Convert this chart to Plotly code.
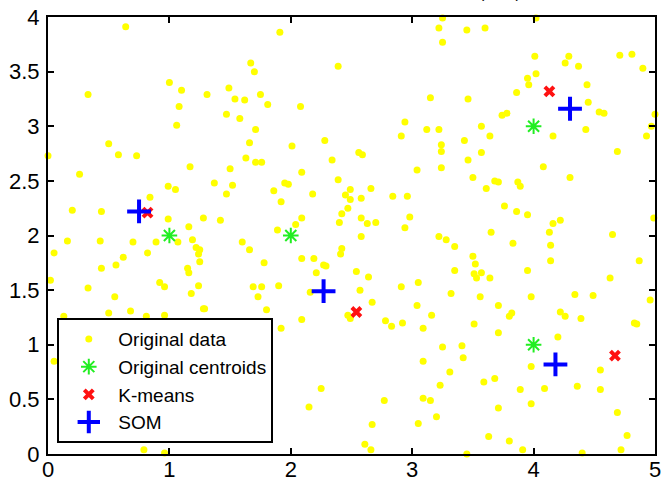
import plotly.graph_objects as go

# Original data (x, y)
data_x = [0.64, 1.91, 3.25, 4.02, 3.22, 3.45, 3.60, 3.25, 2.39, 1.67, 1.70, 4.01, 4.29, 4.26, 4.37,
          4.71, 4.81, 4.90, 4.02, 3.95, 3.96, 3.86, 4.44, 4.45, 4.54, 4.58, 5.00, 4.97, 4.93, 4.43,
          4.16, 3.78, 3.74, 3.46, 3.15, 0.33, 1.00, 1.10, 1.31, 1.49, 1.54, 1.62, 1.75, 1.81, 1.08,
          1.06, 1.47, 1.58, 1.71, 2.08, 2.94, 2.91, 3.12, 3.22, 3.57, 3.64, 3.43, 0.50, 0.58, 0.73,
          0.00, 1.66, 2.01, 2.28, 3.24, 3.24, 3.24, 2.56, 2.59, 2.34, 1.63, 1.71, 1.76, 3.46, 3.57,
          4.08, 4.69, 1.17, 0.26, 1.50, 2.09, 3.04, 3.50, 3.61, 3.68, 3.71, 3.87, 3.89, 4.30, 1.37,
          1.52, 1.47, 0.99, 1.05, 1.95, 1.98, 1.86, 1.92, 2.18, 2.39, 2.45, 2.49, 2.49, 2.58, 2.66,
          2.84, 2.96, 0.84, 0.20, 0.44, 2.47, 2.42, 2.58, 2.63, 2.70, 2.40, 2.98, 2.94, 3.76, 3.86,
          3.95, 4.16, 4.22, 4.13, 3.65, 4.99, 0.99, 1.28, 1.42, 2.09, 2.04, 1.89, 1.16, 3.22, 3.28,
          3.35, 4.65, 3.83, 4.14, 2.58, 0.16, 0.43, 0.70, 0.89, 1.07, 1.19, 1.22, 1.25, 1.24, 1.25,
          1.60, 1.66, 0.05, 0.62, 0.82, 2.42, 2.41, 2.09, 2.19, 1.78, 3.50, 3.52, 3.57, 3.51, 3.53,
          3.64, 3.35, 4.87, 4.14, 0.56, 0.44, 1.15, 1.16, 2.54, 2.64, 2.21, 2.27, 2.29, 3.95, 4.63,
          0.02, 0.92, 0.96, 1.24, 1.69, 1.76, 1.90, 0.33, 3.05, 2.91, 2.16, 2.57, 3.32, 3.56, 3.98,
          4.34, 4.49, 4.96, 0.55, 1.73, 1.18, 2.67, 3.04, 3.71, 1.80, 1.28, 0.68, 0.50, 0.96, 0.81,
          0.13, 2.47, 2.49, 3.16, 3.82, 3.80, 4.22, 4.26, 4.39, 2.09, 0.30, 1.03, 1.39, 2.78, 2.83,
          2.92, 3.51, 4.83, 4.85, 1.27, 1.36, 3.09, 3.71, 4.20, 1.74, 1.92, 3.25, 3.41, 3.42, 3.09,
          0.05, 3.98, 4.55, 3.31, 3.68, 3.59, 3.23, 4.36, 4.55, 4.09, 3.89, 2.25, 3.09, 3.15, 2.77,
          3.98, 2.15, 3.71, 4.69, 3.20, 3.05, 2.67, 4.77, 3.63, 3.80, 2.61, 2.66, 3.91, 4.72, 4.40,
          3.45, 0.79, 0.96, 1.29, 1.26]
data_y = [3.91, 3.86, 3.99, 3.99, 3.90, 3.88, 3.90, 3.77, 3.55, 3.58, 3.50, 3.64, 3.64, 3.58, 3.55,
          3.65, 3.66, 3.53, 3.48, 3.44, 3.38, 3.31, 3.38, 3.22, 3.13, 3.12, 3.11, 3.00, 2.91, 2.97,
          2.91, 3.12, 3.10, 3.25, 3.26, 3.29, 3.40, 3.33, 3.29, 3.35, 3.25, 3.24, 3.29, 3.20, 3.18,
          3.01, 3.11, 3.07, 2.97, 3.18, 3.04, 2.91, 2.97, 2.97, 3.00, 2.91, 2.87, 2.84, 2.74, 2.73,
          2.73, 2.85, 2.82, 2.87, 2.83, 2.77, 2.62, 2.76, 2.74, 2.69, 2.71, 2.67, 2.67, 2.69, 2.76,
          2.63, 2.77, 2.63, 2.56, 2.61, 2.58, 2.60, 2.53, 2.43, 2.50, 2.49, 2.49, 2.45, 2.53, 2.48,
          2.46, 2.38, 2.45, 2.42, 2.48, 2.47, 2.41, 2.31, 2.38, 2.51, 2.37, 2.42, 2.33, 2.34, 2.43,
          2.36, 2.36, 2.35, 2.23, 2.22, 2.25, 2.20, 2.16, 2.11, 2.12, 2.12, 2.17, 2.07, 2.27, 2.22,
          2.19, 2.11, 2.14, 2.03, 2.03, 2.16, 2.15, 2.16, 2.14, 2.16, 2.10, 2.05, 2.08, 1.99, 1.96,
          1.90, 2.01, 1.93, 1.91, 1.99, 1.95, 1.95, 1.94, 1.94, 1.94, 1.96, 1.89, 1.87, 1.83, 1.76,
          1.94, 1.87, 1.84, 1.80, 1.84, 1.88, 1.83, 1.79, 1.79, 1.75, 1.81, 1.74, 1.66, 1.65, 1.61,
          1.61, 1.68, 1.77, 1.77, 1.73, 1.70, 1.70, 1.66, 1.67, 1.62, 1.66, 1.73, 1.72, 1.68, 1.61,
          1.59, 1.57, 1.53, 1.54, 1.53, 1.53, 1.54, 1.52, 1.57, 1.53, 1.48, 1.50, 1.47, 1.44, 1.44,
          1.46, 1.45, 1.41, 1.44, 1.44, 1.47, 1.39, 1.36, 1.36, 1.32, 1.33, 1.31, 1.29, 1.27, 1.26,
          1.26, 1.27, 1.24, 1.27, 1.29, 1.26, 1.30, 1.26, 1.24, 1.23, 1.18, 1.19, 1.19, 1.22, 1.17,
          1.20, 1.19, 1.20, 1.19, 1.14, 1.11, 1.15, 1.11, 1.07, 1.11, 1.15, 0.98, 0.99, 0.88, 0.85,
          0.85, 0.80, 0.77, 0.75, 0.69, 0.66, 0.63, 0.62, 0.59, 0.60, 0.59, 0.60, 0.51, 0.49, 0.49,
          0.46, 0.43, 0.42, 0.38, 0.34, 0.28, 0.27, 0.17, 0.16, 0.12, 0.09, 0.04, 0.04, 0.04, 0.01,
          0.00, 0.04, 0.01, 1.33, 1.15]

# Original centroids
cent_x = [1, 2, 4, 4]
cent_y = [2, 2, 3, 1]
# K-means centroids
km_x = [0.82, 2.54, 4.13, 4.67]
km_y = [2.21, 1.30, 3.32, 0.90]
# SOM centroids
som_x = [0.75, 2.27, 4.30, 4.18]
som_y = [2.22, 1.49, 3.16, 0.82]

x_ticks = [0, 1, 2, 3, 4, 5]
x_ticktext = ["0", "1", "2", "3", "4", "5"]
y_ticks = [0, 0.5, 1, 1.5, 2, 2.5, 3, 3.5, 4]
y_ticktext = ["0", "0.5", "1", "1.5", "2", "2.5", "3", "3.5", "4"]

FONT = "Liberation Sans, Arial, Helvetica"

fig = go.Figure()
fig.add_trace(go.Scatter(
    x=data_x, y=data_y, mode="markers", name="Original data", legendgroup="a",
    marker=dict(color="#FFFF00", size=7, line=dict(width=0)), cliponaxis=False))
fig.add_trace(go.Scatter(
    x=cent_x, y=cent_y, mode="markers", name="Original centroids", legendgroup="b",
    marker=dict(symbol="asterisk-open", color="#22EE22", size=13, line=dict(color="#22EE22", width=2)),
    cliponaxis=False))
fig.add_trace(go.Scatter(
    x=km_x, y=km_y, mode="markers", name="K-means", legendgroup="c",
    marker=dict(symbol="x-thin-open", color="#FF1111", size=9, line=dict(color="#FF1111", width=4)),
    cliponaxis=False))
fig.add_trace(go.Scatter(
    x=som_x, y=som_y, mode="markers", name="SOM", legendgroup="d",
    marker=dict(symbol="cross-thin-open", color="#0000FF", size=17, line=dict(color="#0000FF", width=4)),
    cliponaxis=False))

axis_common = dict(
    showline=True, linecolor="black", linewidth=2, mirror="ticks",
    ticks="inside", ticklen=6, tickwidth=2, tickcolor="black",
    showgrid=False, zeroline=False, automargin=False,
    tickfont=dict(family=FONT, size=22, color="black"),
)

fig.update_xaxes(range=[0, 5], tickvals=x_ticks, ticktext=x_ticktext, ticklabelstandoff=-5, **axis_common)
fig.update_yaxes(range=[0, 4], tickvals=y_ticks, ticktext=y_ticktext, ticklabelstandoff=2, **axis_common)

fig.add_annotation(
    text="(\u00a0\u00a0\u00a0\u00a0\u00a0\u00a0\u00a0)", xref="paper", yref="paper",
    x=0.745, y=1.032, xanchor="center", yanchor="bottom", showarrow=False,
    font=dict(family=FONT, size=16, color="black"))

fig.update_layout(
    width=662, height=485,
    margin=dict(l=48, r=7, t=17, b=31),
    paper_bgcolor="white", plot_bgcolor="white",
    font=dict(family=FONT, size=19, color="black"),
    legend=dict(
        x=0.0153, y=0.025, xanchor="left", yanchor="bottom",
        bgcolor="white", bordercolor="black", borderwidth=2,
        font=dict(family=FONT, size=19, color="black"),
        tracegroupgap=0, traceorder="grouped", itemwidth=49,
    ),
    showlegend=True,
)

fig.write_html("out.html", config={"displayModeBar": False},
               post_script="document.body.style.margin='0px';")
